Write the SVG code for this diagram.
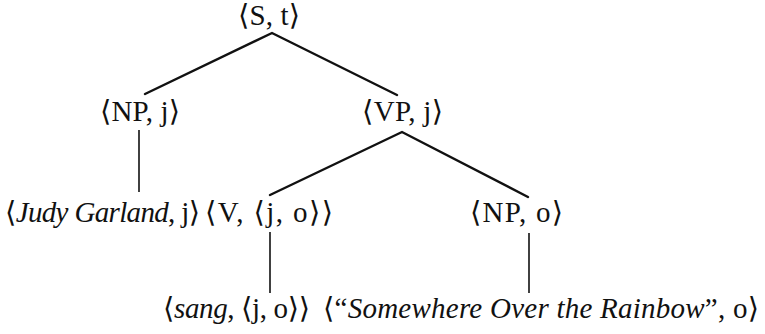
<svg xmlns="http://www.w3.org/2000/svg" width="765" height="334" viewBox="0 0 765 334">
<style>
text{font-family:"Liberation Serif","DejaVu Serif",serif;font-size:29px;fill:#111}
.i{font-style:italic}
.e{stroke:#111;stroke-width:2.4;fill:none;stroke-linecap:round}
.v{stroke:#111;stroke-width:1.6;fill:none}
</style>
<rect width="765" height="334" fill="#fff"/>
<g id="connectors">
<polyline class="e" points="145,94 272,33 397,95"/>
<line class="v" x1="139" y1="130" x2="139" y2="192"/>
<polyline class="e" points="270,195 402,132 528,197"/>
<line class="v" x1="270" y1="232" x2="270" y2="293"/>
<line class="v" x1="529" y1="233" x2="529" y2="293"/>
</g>
<g id="n-S"><text x="238" y="25" textLength="62" lengthAdjust="spacing">⟨S, t⟩</text></g>
<g id="n-NPj"><text x="100" y="121" textLength="80" lengthAdjust="spacing">⟨NP, j⟩</text></g>
<g id="n-VPj"><text x="362" y="121" textLength="81" lengthAdjust="spacing">⟨VP, j⟩</text></g>
<g id="n-Judy"><text x="5" y="222" textLength="195" lengthAdjust="spacing">⟨<tspan class="i">Judy Garland</tspan>, j⟩</text></g>
<g id="n-V"><text x="205" y="222" textLength="128" lengthAdjust="spacing">⟨V, ⟨j, o⟩⟩</text></g>
<g id="n-NPo"><text x="470" y="222" textLength="93" lengthAdjust="spacing">⟨NP, o⟩</text></g>
<g id="n-sang"><text x="163" y="318" textLength="147" lengthAdjust="spacing">⟨<tspan class="i">sang</tspan>, ⟨j, o⟩⟩</text></g>
<g id="n-song"><text x="323" y="318" textLength="436" lengthAdjust="spacing">⟨“<tspan class="i">Somewhere Over the Rainbow</tspan>”, o⟩</text></g>
</svg>
